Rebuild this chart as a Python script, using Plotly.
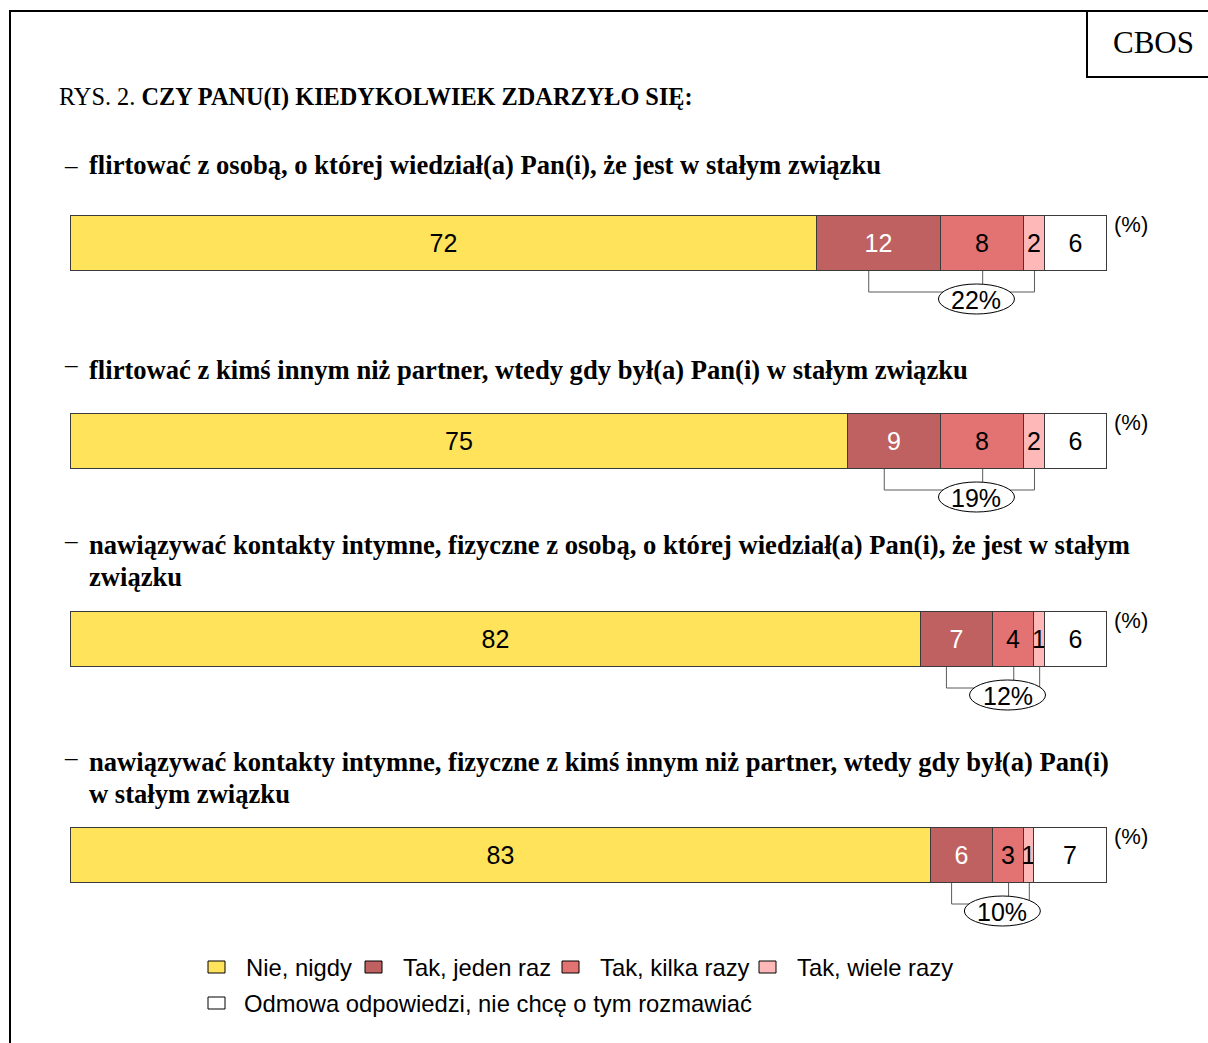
import plotly.graph_objects as go

# ---------------- data ----------------
question_lines = [
    ["flirtować z osobą, o której wiedział(a) Pan(i), że jest w stałym związku"],
    ["flirtować z kimś innym niż partner, wtedy gdy był(a) Pan(i) w stałym związku"],
    ["nawiązywać kontakty intymne, fizyczne z osobą, o której wiedział(a) Pan(i), że jest w stałym",
     "związku"],
    ["nawiązywać kontakty intymne, fizyczne z kimś innym niż partner, wtedy gdy był(a) Pan(i)",
     "w stałym związku"],
]
series_names = ["Nie, nigdy", "Tak, jeden raz", "Tak, kilka razy", "Tak, wiele razy",
                "Odmowa odpowiedzi, nie chcę o tym rozmawiać"]
nie_nigdy = [72, 75, 82, 83]
jeden_raz = [12, 9, 7, 6]
kilka_razy = [8, 8, 4, 3]
wiele_razy = [2, 2, 1, 1]
odmowa = [6, 6, 6, 7]
tak_total = [22, 19, 12, 10]

title_plain = "RYS. 2. "
title_bold = "CZY PANU(I) KIEDYKOLWIEK ZDARZYŁO SIĘ:"
source_label = "CBOS"

# ---------------- styles / layout ----------------
W, H = 1208, 1043
colors = ["#FFE35A", "#C06161", "#E37272", "#FFB8B8", "#FFFFFF"]
text_colors = ["black", "white", "black", "black", "black"]
X0_PX, X100_PX = 71, 1107
UNIT = (X100_PX - X0_PX) / 100.0
bar_rows_px = [(216, 271), (414, 469), (612, 667), (828, 883)]
title_lines_px = [[165], [370], [545, 577], [762, 794]]
dash_y_px = [166, 365, 540, 757]
PAD = 3
SERIF = "Liberation Serif"
SANS = "Liberation Sans"


def px_x(p):
    return p / W


def px_y(p):
    return 1 - p / H


fig = go.Figure()
series_vals = [nie_nigdy, jeden_raz, kilka_razy, wiele_razy, odmowa]

layout_axes = {}
for qi, (top, bot) in enumerate(bar_rows_px):
    yname = "y" if qi == 0 else f"y{qi + 1}"
    akey = "yaxis" if qi == 0 else f"yaxis{qi + 1}"
    ext = PAD / (bot - top)
    layout_axes[akey] = dict(domain=[px_y(bot + PAD), px_y(top - PAD)],
                             range=[-0.5 - ext, 0.5 + ext],
                             visible=False, fixedrange=True, anchor="x")
    for si, vals in enumerate(series_vals):
        fig.add_trace(go.Bar(
            x=[vals[qi]], y=[0], orientation="h", width=1,
            xaxis="x", yaxis=yname,
            marker=dict(color=colors[si], line=dict(color="#3a3a3a", width=1)),
            text=[str(vals[qi])], textposition="inside", insidetextanchor="middle",
            textangle=0, textfont=dict(family=SANS, size=25, color=text_colors[si]),
            showlegend=False, hoverinfo="skip", name=series_names[si],
        ))

shapes = []
annotations = []

# frame
shapes.append(dict(type="line", xref="paper", yref="paper", x0=px_x(10), x1=px_x(10),
                   y0=px_y(H + 2), y1=px_y(11), line=dict(color="black", width=2)))
shapes.append(dict(type="line", xref="paper", yref="paper", x0=px_x(9), x1=px_x(W + 2),
                   y0=px_y(11), y1=px_y(11), line=dict(color="black", width=2)))
shapes.append(dict(type="line", xref="paper", yref="paper", x0=px_x(1087), x1=px_x(1087),
                   y0=px_y(11), y1=px_y(77), line=dict(color="black", width=2)))
shapes.append(dict(type="line", xref="paper", yref="paper", x0=px_x(1086), x1=px_x(W + 2),
                   y0=px_y(77), y1=px_y(77), line=dict(color="black", width=2)))
annotations.append(dict(text=source_label, xref="paper", yref="paper", x=px_x(1153), y=px_y(43),
                        showarrow=False, xanchor="center", yanchor="middle",
                        font=dict(family=SERIF, size=31, color="black")))

# main title
annotations.append(dict(text=f"{title_plain}<b>{title_bold}</b>", xref="paper", yref="paper",
                        x=px_x(57), y=px_y(97), showarrow=False, xanchor="left", yanchor="middle",
                        font=dict(family=SERIF, size=24.3, color="black")))

# question titles
for qi, lines in enumerate(question_lines):
    ys = title_lines_px[qi]
    annotations.append(dict(text="–", xref="paper", yref="paper", x=px_x(62),
                            y=px_y(dash_y_px[qi]), showarrow=False, xanchor="left",
                            yanchor="middle", font=dict(family=SERIF, size=25, color="black")))
    for li, line in enumerate(lines):
        annotations.append(dict(text=f"<b>{line}</b>", xref="paper", yref="paper", x=px_x(87),
                                y=px_y(ys[li]), showarrow=False, xanchor="left", yanchor="middle",
                                font=dict(family=SERIF, size=26.6, color="black")))

# (%) labels and brackets
for qi, (top, bot) in enumerate(bar_rows_px):
    annotations.append(dict(text="(%)", xref="paper", yref="paper", x=px_x(1112),
                            y=px_y(top + 8), showarrow=False, xanchor="left", yanchor="middle",
                            font=dict(family=SANS, size=22, color="black")))
    s1 = nie_nigdy[qi]
    s2 = s1 + jeden_raz[qi]
    s3 = s2 + kilka_razy[qi]
    s4 = s3 + wiele_razy[qi]
    left = (s1 + s2) / 2 - 1.0
    mid = (s2 + s3) / 2
    right = (s3 + s4) / 2
    yb = bot
    yh = bot + 21
    lc = dict(color="#5a5a5a", width=1)
    for xv in (left, mid, right):
        shapes.append(dict(type="line", xref="x", yref="paper", x0=xv, x1=xv,
                           y0=px_y(yb), y1=px_y(yh), line=lc))
    shapes.append(dict(type="line", xref="x", yref="paper", x0=left, x1=right,
                       y0=px_y(yh), y1=px_y(yh), line=lc))
    ecx = mid - 0.6
    ew = 76 / UNIT / 2
    ecy = bot + 28
    shapes.append(dict(type="circle", xref="x", yref="paper", x0=ecx - ew, x1=ecx + ew,
                       y0=px_y(ecy + 15), y1=px_y(ecy - 15), fillcolor="white",
                       line=dict(color="black", width=1)))
    annotations.append(dict(text=f"{tak_total[qi]}%", xref="x", yref="paper", x=ecx,
                            y=px_y(ecy + 1), showarrow=False, xanchor="center", yanchor="middle",
                            font=dict(family=SANS, size=25, color="black")))

# legend (drawn manually)
legend_pos_px = [(208, 967), (365, 967), (562, 967), (759, 967), (208, 1003)]
for si, (lx, ly) in enumerate(legend_pos_px):
    shapes.append(dict(type="rect", xref="paper", yref="paper", x0=px_x(lx), x1=px_x(lx + 17),
                       y0=px_y(ly + 6), y1=px_y(ly - 6), fillcolor=colors[si],
                       line=dict(color="black", width=1)))
    annotations.append(dict(text=series_names[si], xref="paper", yref="paper",
                            x=px_x(lx + (36 if si < 4 else 34)), y=px_y(ly),
                            showarrow=False, xanchor="left", yanchor="middle",
                            font=dict(family=SANS, size=23.8, color="black")))

fig.update_layout(
    width=W, height=H, margin=dict(l=0, r=0, t=0, b=0),
    paper_bgcolor="white", plot_bgcolor="white",
    barmode="stack", bargap=0,
    xaxis=dict(domain=[0, 1], range=[-X0_PX / UNIT, (W - X0_PX) / UNIT], visible=False,
               fixedrange=True, anchor="y"),
    uniformtext=dict(minsize=25, mode="show"),
    shapes=shapes, annotations=annotations,
    **layout_axes,
)

fig.write_html("out.html")
